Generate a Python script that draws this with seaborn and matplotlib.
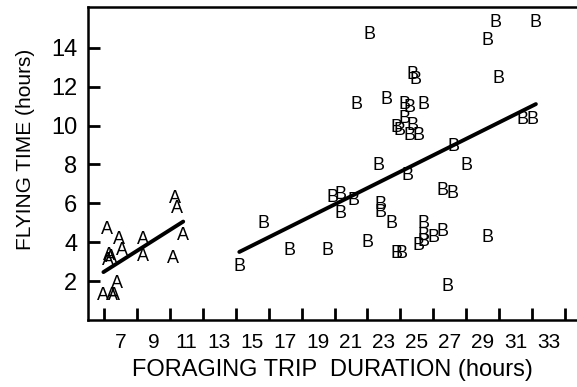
import numpy as np
import pandas as pd
import matplotlib
matplotlib.use("Agg")
import matplotlib.pyplot as plt
import seaborn as sns

# Group A (short trips)
a_x = [6.15, 6.9, 8.35, 7.1, 6.3, 6.4, 6.2, 8.35, 10.15, 10.3, 10.45, 10.8, 6.8, 5.95, 6.45, 6.6]
a_y = [4.65, 4.15, 4.15, 3.6, 3.35, 3.2, 3.05, 3.3, 3.15, 6.25, 5.75, 4.35, 1.9, 1.25, 1.25, 1.25]

# Group B (long trips)
b_x = [29.81, 32.24, 29.29, 22.15, 29.96, 24.75, 24.92, 21.34, 23.14, 24.28,
       24.58, 25.39, 24.28, 24.75, 23.79, 23.93, 24.57, 25.09, 31.45, 32.06,
       27.22, 22.66, 28.01, 24.42, 26.54, 27.2, 19.88, 20.38, 21.18, 20.38,
       22.79, 22.79, 23.47, 25.39, 25.43, 25.43, 25.09, 26.0, 26.56, 29.29,
       21.99, 17.27, 19.56, 23.78, 24.1, 15.67, 14.21, 26.88]
b_y = [15.28, 15.28, 14.37, 14.67, 12.43, 12.6, 12.34, 11.10, 11.36, 11.10,
       10.94, 11.10, 10.34, 9.98, 9.90, 9.75, 9.50, 9.50, 10.32, 10.32,
       8.92, 7.93, 7.95, 7.42, 6.68, 6.49, 6.28, 6.45, 6.17, 5.50,
       5.93, 5.51, 4.96, 4.98, 4.37, 4.05, 3.83, 4.24, 4.56, 4.24,
       4.0, 3.59, 3.59, 3.42, 3.42, 4.97, 2.77, 1.71]

x_major = list(range(6, 35, 2))
x_labels = [str(v) for v in range(7, 34, 2)]
y_ticks = [2, 4, 6, 8, 10, 12, 14]

sns.set_style("ticks")
plt.rcParams['font.family'] = ['Liberation Sans', 'DejaVu Sans']
for k in ("text.color", "axes.labelcolor", "xtick.color", "ytick.color", "axes.edgecolor"):
    plt.rcParams[k] = "black"

fig = plt.figure(figsize=(5.77, 3.87), dpi=100)
ax = fig.add_axes([88.3 / 577, 1 - 320.3 / 387, 1 - 88.3 / 577, (320.3 - 6.7) / 387])

dfa = pd.DataFrame({"x": a_x, "y": a_y})
dfb = pd.DataFrame({"x": b_x, "y": b_y})

for df, letter in ((dfa, "A"), (dfb, "B")):
    sns.regplot(data=df, x="x", y="y", ax=ax, scatter=False, ci=None,
                truncate=True, color="black", line_kws={"lw": 2.8})
    for xv, yv in zip(df["x"], df["y"]):
        ax.text(xv, yv, letter, ha="center", va="center", fontsize=13,
                color="black")

ax.set_xlim(5.03, 34.74)
ax.set_ylim(0, 16.1)

ax.set_xticks(x_major)
ax.set_xticklabels([])
ax.set_xticks(list(range(7, 34, 2)), minor=True)
ax.set_xticklabels(x_labels, minor=True, fontsize=15)
ax.tick_params(axis="x", which="major", direction="in", length=8.5, width=2)
ax.tick_params(axis="x", which="minor", length=0, pad=9)

ax.set_yticks(y_ticks)
ax.set_yticklabels([str(v) for v in y_ticks], fontsize=17)
ax.tick_params(axis="y", direction="in", length=8.5, width=2, pad=8)

for s in ("left", "bottom", "top"):
    ax.spines[s].set_linewidth(1.8)
    ax.spines[s].set_color("black")
ax.spines["right"].set_visible(False)

ax.set_xlabel("FORAGING TRIP  DURATION (hours)", fontsize=17, labelpad=5)
ax.set_ylabel("FLYING TIME (hours)", fontsize=15)
ax.yaxis.set_label_coords(-0.11, 0.545)

fig.savefig("out.png", dpi=100)
